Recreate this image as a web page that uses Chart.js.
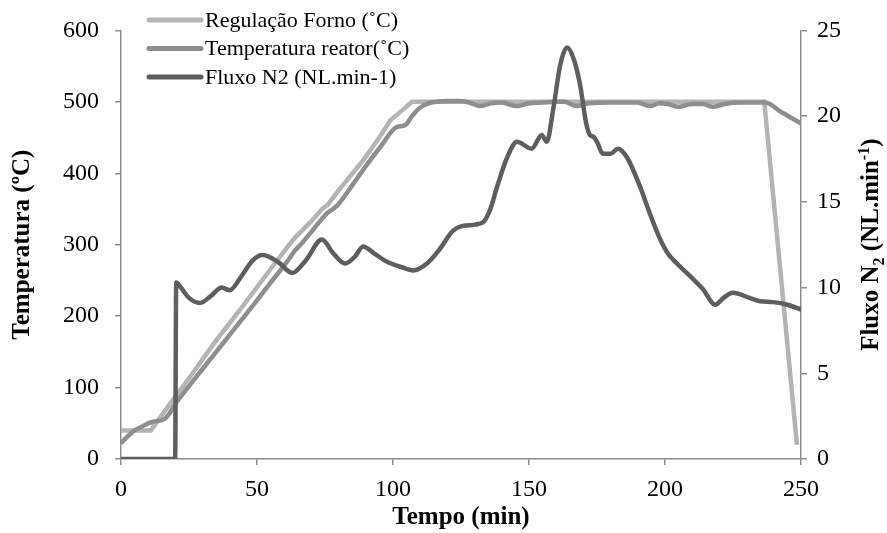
<!DOCTYPE html>
<html>
<head>
<meta charset="utf-8">
<script src="https://cdn.jsdelivr.net/npm/chart.js@4.4.1/dist/chart.umd.min.js"></script>
<style>
  html, body { margin: 0; padding: 0; background: #fff; }
  #c { display: block; }
</style>
</head>
<body>
<canvas id="c" width="887" height="533"></canvas>
<script>
// ---- Data ----
const seriesNames = ['Regulação Forno (˚C)', 'Temperatura reator(˚C)', 'Fluxo N2 (NL.min-1)'];

const fornoTime = [0, 11, 17, 25, 35, 45, 55, 61, 64, 70, 74, 76, 80, 89, 95, 99, 103, 107, 236.5, 248.5];
const fornoTemp = [40, 40, 72, 113, 166, 215, 266, 296, 310, 333, 350, 356, 376, 418, 450, 474, 487, 500, 500, 20];

const reatorTime = [0, 2, 5, 8, 10, 13, 16, 18, 20, 25, 30, 35, 40, 45, 50, 55, 61, 64, 66, 70, 75.7, 78, 80, 85, 90, 95, 101.5, 104.4, 107, 110, 113, 116, 120, 124, 128, 132, 136, 140, 145.5, 150, 155, 160, 163, 167.5, 172, 180, 187, 190, 194.5, 198, 201, 205, 210, 214, 217.5, 222, 228, 236.8, 243, 250];
const reatorTemp = [22, 30, 40, 46, 50, 53, 56, 65, 77, 102, 126, 150, 174, 198, 222, 247, 276, 292, 300, 318, 344, 350, 357, 383, 410, 435, 465, 467, 480, 492, 498, 500, 501, 501, 499, 494, 498, 499, 494, 498, 499, 500, 500, 494, 498, 499, 499, 499, 494, 498, 497, 493, 497, 497, 493, 497, 499, 499, 485, 470];

const fluxoTime = [0, 19.9, 20.3, 22, 25, 29, 33, 37, 40, 44, 48.5, 52, 57.7, 63, 68, 73.9, 78, 82.4, 86, 89, 93, 97.8, 103, 107.4, 112.5, 117, 122, 125.7, 133, 135.6, 138.5, 142, 145.6, 151, 154.7, 156.5, 159, 161.5, 164, 166.5, 168.8, 171, 172.4, 173.6, 175, 177.2, 180, 182.7, 186, 190.8, 194, 198, 201, 204.4, 210.3, 214, 218.4, 221.5, 225, 231, 235, 239.7, 245, 250.4];
const fluxoVal  = [0, 0, 10.3, 10.0, 9.4, 9.1, 9.5, 10.0, 9.85, 10.6, 11.6, 11.9, 11.5, 10.85, 11.6, 12.8, 12.0, 11.4, 11.8, 12.4, 12.0, 11.5, 11.2, 11.0, 11.4, 12.2, 13.3, 13.6, 13.8, 14.5, 16.0, 17.6, 18.5, 18.1, 18.9, 18.5, 20.5, 23.0, 24.0, 23.3, 21.8, 19.6, 18.9, 18.8, 18.5, 17.8, 17.8, 18.1, 17.6, 15.9, 14.5, 12.9, 12.0, 11.4, 10.5, 9.9, 9.0, 9.4, 9.7, 9.4, 9.2, 9.15, 9.0, 8.7];

const xTicks = [0, 50, 100, 150, 200, 250];
const yTicks = [0, 100, 200, 300, 400, 500, 600];
const y2Ticks = [0, 5, 10, 15, 20, 25];

// ---- Styling ----
const FONT = "'Liberation Serif', 'Times New Roman', serif";
const AXIS = '#8c8c8c';
const COLORS = ['#b4b4b4', '#8e8e8e', '#5e5e5e'];

const toPts = (xs, ys) => xs.map((x, i) => ({ x: x, y: ys[i] }));

const customDraw = {
  id: 'customDraw',
  afterDraw(chart) {
    const ctx = chart.ctx;
    ctx.save();
    // Legend
    const rows = [20, 48.5, 77];
    seriesNames.forEach((name, i) => {
      ctx.strokeStyle = COLORS[i];
      ctx.lineWidth = 5;
      ctx.lineCap = 'round';
      ctx.beginPath();
      ctx.moveTo(149, rows[i]);
      ctx.lineTo(201, rows[i]);
      ctx.stroke();
      ctx.fillStyle = '#000';
      ctx.font = '22px ' + FONT;
      ctx.textBaseline = 'middle';
      ctx.textAlign = 'left';
      ctx.fillText(name, 205, rows[i] + 1);
    });
    // Right axis title with subscript/superscript
    const parts = [
      { t: 'Fluxo N', s: 25, dy: 0 },
      { t: '2', s: 16, dy: 6 },
      { t: ' (NL.min', s: 25, dy: 0 },
      { t: '-1', s: 16, dy: -9 },
      { t: ')', s: 25, dy: 0 }
    ];
    let total = 0;
    parts.forEach(p => { ctx.font = 'bold ' + p.s + 'px ' + FONT; p.w = ctx.measureText(p.t).width; total += p.w; });
    const ca = chart.chartArea;
    const cy = (ca.top + ca.bottom) / 2;
    ctx.translate(870, cy);
    ctx.rotate(-Math.PI / 2);
    let x = -total / 2;
    ctx.textBaseline = 'alphabetic';
    ctx.textAlign = 'left';
    ctx.fillStyle = '#000';
    parts.forEach(p => {
      ctx.font = 'bold ' + p.s + 'px ' + FONT;
      ctx.fillText(p.t, x, 8 + p.dy);
      x += p.w;
    });
    ctx.restore();
  }
};

const tickFont = { family: FONT, size: 24 };
const titleFont = { family: FONT, size: 25, weight: 'bold' };

new Chart(document.getElementById('c'), {
  type: 'line',
  data: {
    datasets: [
      { label: seriesNames[0], data: toPts(fornoTime, fornoTemp), borderColor: COLORS[0], borderWidth: 4.5, tension: 0, pointRadius: 0, yAxisID: 'y', order: 3 },
      { label: seriesNames[1], data: toPts(reatorTime, reatorTemp), borderColor: COLORS[1], borderWidth: 4.5, cubicInterpolationMode: 'monotone', pointRadius: 0, yAxisID: 'y', order: 2 },
      { label: seriesNames[2], data: toPts(fluxoTime, fluxoVal), borderColor: COLORS[2], borderWidth: 4.5, cubicInterpolationMode: 'monotone', pointRadius: 0, yAxisID: 'y2', order: 1 }
    ]
  },
  options: {
    responsive: false,
    animation: false,
    devicePixelRatio: 1,
    layout: { padding: { top: 30, left: 0, right: 0, bottom: 0 } },
    plugins: { legend: { display: false }, tooltip: { enabled: false } },
    scales: {
      x: {
        type: 'linear', min: 0, max: 250,
        afterBuildTicks: s => { s.ticks = xTicks.map(v => ({ value: v })); },
        ticks: { font: tickFont, color: '#000', padding: 10, maxRotation: 0, autoSkip: false },
        grid: { drawOnChartArea: false, drawTicks: true, tickLength: 6, color: AXIS, lineWidth: 1.5 },
        border: { display: true, color: AXIS, width: 1.5 },
        title: { display: true, text: 'Tempo (min)', font: titleFont, color: '#000', padding: { top: 0, bottom: 0 } },
        afterFit: s => { s.height = 74; }
      },
      y: {
        position: 'left', min: 0, max: 600,
        afterBuildTicks: s => { s.ticks = yTicks.map(v => ({ value: v })); },
        ticks: { font: tickFont, color: '#000', padding: 16 },
        grid: { drawOnChartArea: false, drawTicks: true, tickLength: 6, color: AXIS, lineWidth: 1.5 },
        border: { display: true, color: AXIS, width: 1.5 },
        title: { display: true, text: 'Temperatura (ºC)', font: titleFont, color: '#000', padding: { top: 8, bottom: 0 } },
        afterFit: s => { s.width = 121; }
      },
      y2: {
        position: 'right', min: 0, max: 25,
        afterBuildTicks: s => { s.ticks = y2Ticks.map(v => ({ value: v })); },
        ticks: { font: tickFont, color: '#000', padding: 10 },
        grid: { drawOnChartArea: false, drawTicks: true, tickLength: 6, color: AXIS, lineWidth: 1.5 },
        border: { display: true, color: AXIS, width: 1.5 },
        afterFit: s => { s.width = 86; }
      }
    }
  },
  plugins: [customDraw]
});
</script>
</body>
</html>
